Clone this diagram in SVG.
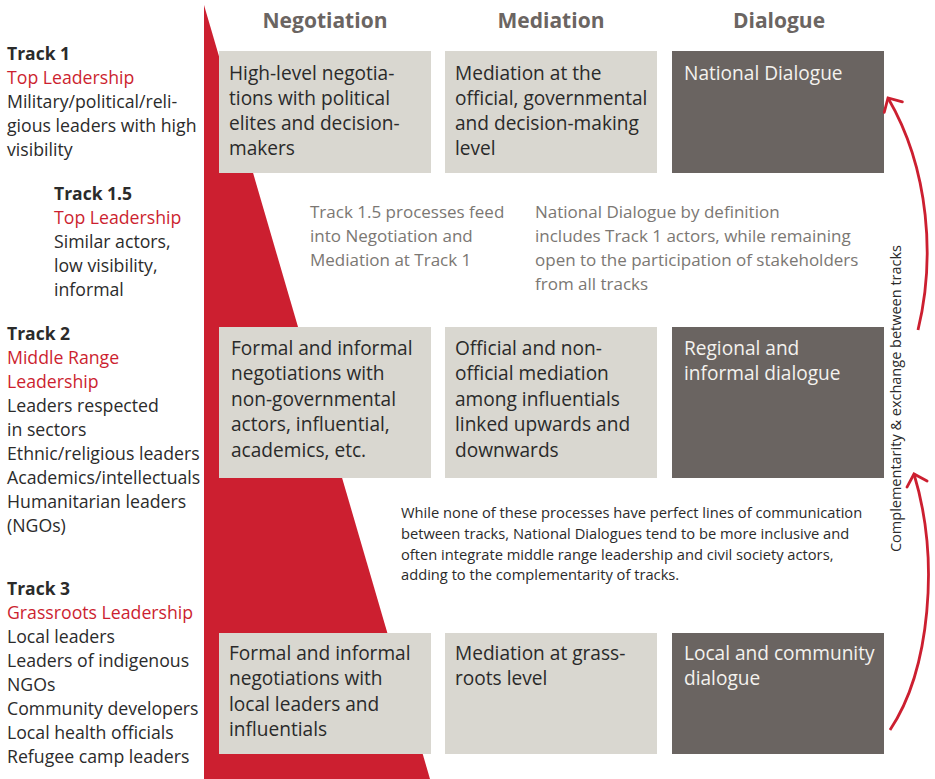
<svg xmlns="http://www.w3.org/2000/svg" width="935" height="779" viewBox="0 0 935 779">
<style>
text{font-family:"Open Sans","Liberation Sans",sans-serif}
.hdr{font-size:21px;font-weight:bold;fill:#6b6562;text-anchor:middle}
.lt{font-size:17.7px;fill:#2b2b2b}
.ltb{font-size:17.5px;fill:#2b2b2b;font-weight:bold}
.rd{fill:#cc1f30}
.red{fill:#cc1f30}
.bx{fill:#d9d7d0}
.dk{fill:#6a6461}
.bt{font-size:19.1px;fill:#2a2a2a}
.wt{font-size:19.1px;fill:#f4f2ee}
.gt{font-size:17px;fill:#7b7773}
.st{font-size:14.7px;fill:#2b2b2b}
.arr{fill:none;stroke:#cc1f30;stroke-width:2.8}
</style>
<defs>
<marker id="ah" markerUnits="userSpaceOnUse" markerWidth="26" markerHeight="26" refX="13" refY="13" orient="auto" viewBox="0 0 26 26">
<path d="M2.5,2.5 L13,13 L2.5,23.5" fill="none" stroke="#cc1f30" stroke-width="2.8" stroke-linecap="round" stroke-linejoin="miter"/>
</marker>
</defs>
<rect width="935" height="779" fill="#ffffff"/>
<polygon class="red" points="204,5 430,779 204,779"/>
<g id="headers">
<text class="hdr" x="325" y="28">Negotiation</text>
<text class="hdr" x="551" y="28">Mediation</text>
<text class="hdr" x="779" y="28">Dialogue</text>
</g>
<g id="track1">
<text class="ltb" x="7" y="60">Track 1</text>
<text class="lt rd" x="7" y="84" style="fill:#cc1f30">Top Leadership</text>
<text class="lt" x="7" y="108">Military/political/reli-</text>
<text class="lt" x="7" y="132">gious leaders with high</text>
<text class="lt" x="7" y="156">visibility</text>
</g>
<g id="track15">
<text class="ltb" x="54" y="199.5">Track 1.5</text>
<text class="lt" x="54" y="223.5" style="fill:#cc1f30">Top Leadership</text>
<text class="lt" x="54" y="247.5">Similar actors,</text>
<text class="lt" x="54" y="271.5">low visibility,</text>
<text class="lt" x="54" y="295.5">informal</text>
</g>
<g id="track2">
<text class="ltb" x="7" y="340">Track 2</text>
<text class="lt" x="7" y="364" style="fill:#cc1f30">Middle Range</text>
<text class="lt" x="7" y="388" style="fill:#cc1f30">Leadership</text>
<text class="lt" x="7" y="412">Leaders respected</text>
<text class="lt" x="7" y="436">in sectors</text>
<text class="lt" x="7" y="460">Ethnic/religious leaders</text>
<text class="lt" x="7" y="484">Academics/intellectuals</text>
<text class="lt" x="7" y="508">Humanitarian leaders</text>
<text class="lt" x="7" y="532">(NGOs)</text>
</g>
<g id="track3">
<text class="ltb" x="7" y="595">Track 3</text>
<text class="lt" x="7" y="619" style="fill:#cc1f30">Grassroots Leadership</text>
<text class="lt" x="7" y="643">Local leaders</text>
<text class="lt" x="7" y="667">Leaders of indigenous</text>
<text class="lt" x="7" y="691">NGOs</text>
<text class="lt" x="7" y="715">Community developers</text>
<text class="lt" x="7" y="739">Local health officials</text>
<text class="lt" x="7" y="763">Refugee camp leaders</text>
</g>
<g id="neg1">
<rect class="bx" x="219" y="51" width="212" height="122"/>
<text class="bt" x="229" y="80">High-level negotia-</text>
<text class="bt" x="229" y="105">tions with political</text>
<text class="bt" x="229" y="130">elites and decision-</text>
<text class="bt" x="229" y="155">makers</text>
</g>
<g id="med1">
<rect class="bx" x="445" y="51" width="212" height="122"/>
<text class="bt" x="455" y="80">Mediation at the</text>
<text class="bt" x="455" y="105">official, governmental</text>
<text class="bt" x="455" y="130">and decision-making</text>
<text class="bt" x="455" y="155">level</text>
</g>
<g id="dia1">
<rect class="dk" x="672" y="51" width="212" height="122"/>
<text class="wt" x="684" y="80">National Dialogue</text>
</g>
<g id="note15">
<text class="gt" x="310" y="218">Track 1.5 processes feed</text>
<text class="gt" x="310" y="242">into Negotiation and</text>
<text class="gt" x="310" y="266">Mediation at Track 1</text>
</g>
<g id="noteND">
<text class="gt" x="535" y="218">National Dialogue by definition</text>
<text class="gt" x="535" y="242">includes Track 1 actors, while remaining</text>
<text class="gt" x="535" y="266">open to the participation of stakeholders</text>
<text class="gt" x="535" y="290">from all tracks</text>
</g>
<g id="neg2">
<rect class="bx" x="219" y="327" width="212" height="151"/>
<text class="bt" x="231" y="355">Formal and informal</text>
<text class="bt" x="231" y="380.4">negotiations with</text>
<text class="bt" x="231" y="405.8">non-governmental</text>
<text class="bt" x="231" y="431.2">actors, influential,</text>
<text class="bt" x="231" y="456.6">academics, etc.</text>
</g>
<g id="med2">
<rect class="bx" x="445" y="327" width="212" height="151"/>
<text class="bt" x="455" y="355">Official and non-</text>
<text class="bt" x="455" y="380.4">official mediation</text>
<text class="bt" x="455" y="405.8">among influentials</text>
<text class="bt" x="455" y="431.2">linked upwards and</text>
<text class="bt" x="455" y="456.6">downwards</text>
</g>
<g id="dia2">
<rect class="dk" x="672" y="327" width="212" height="151"/>
<text class="wt" x="684" y="355">Regional and</text>
<text class="wt" x="684" y="380.4">informal dialogue</text>
</g>
<g id="noteAll">
<text class="st" x="401" y="518">While none of these processes have perfect lines of communication</text>
<text class="st" x="401" y="539">between tracks, National Dialogues tend to be more inclusive and</text>
<text class="st" x="401" y="559.5">often integrate middle range leadership and civil society actors,</text>
<text class="st" x="401" y="580">adding to the complementarity of tracks.</text>
</g>
<g id="neg3">
<rect class="bx" x="219" y="633" width="212" height="121"/>
<text class="bt" x="229" y="660">Formal and informal</text>
<text class="bt" x="229" y="685.3">negotiations with</text>
<text class="bt" x="229" y="710.6">local leaders and</text>
<text class="bt" x="229" y="736">influentials</text>
</g>
<g id="med3">
<rect class="bx" x="445" y="633" width="212" height="121"/>
<text class="bt" x="455" y="660">Mediation at grass-</text>
<text class="bt" x="455" y="685.3">roots level</text>
</g>
<g id="dia3">
<rect class="dk" x="672" y="633" width="212" height="121"/>
<text class="wt" x="684" y="660">Local and community</text>
<text class="wt" x="684" y="685.3">dialogue</text>
</g>
<g id="connectors">
<path class="arr" d="M918,330 C935,260 930,170 888,98" marker-end="url(#ah)"/>
<path class="arr" d="M890,730 C930,670 940,560 914,474" marker-end="url(#ah)"/>
<text transform="translate(901,398.5) rotate(-90)" text-anchor="middle" style="font-size:14.5px;fill:#2b2b2b">Complementarity &amp; exchange between tracks</text>
</g>
</svg>
